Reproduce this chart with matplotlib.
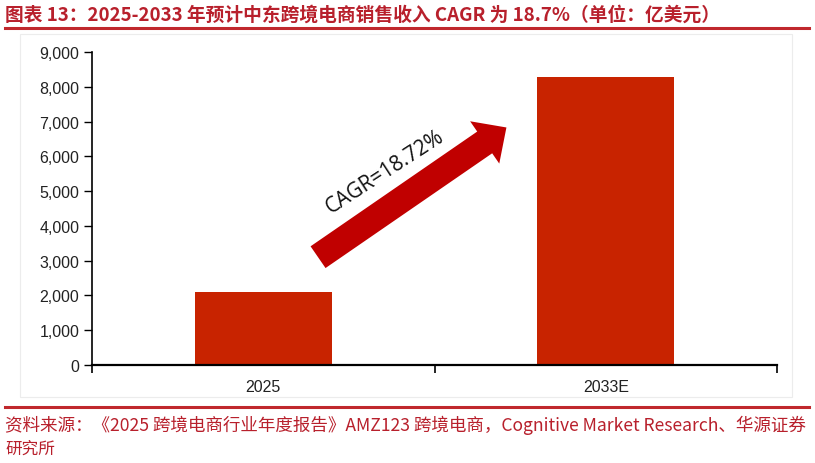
import matplotlib
matplotlib.use("Agg")
import matplotlib.pyplot as plt
import matplotlib.patches as mpatches
from matplotlib.ticker import FuncFormatter, FixedLocator

categories = ["2025", "2033E"]
values = [2100, 8280]
cagr_label = "CAGR=18.72%"
title = "图表 13：2025-2033 年预计中东跨境电商销售收入 CAGR 为 18.7%（单位：亿美元）"
source_1 = "资料来源：《2025 跨境电商行业年度报告》AMZ123 跨境电商，Cognitive Market Research、华源证券"
source_2 = "研究所"

W, H = 815, 464
DPI = 100
fig = plt.figure(figsize=(W / DPI, H / DPI), dpi=DPI)
fig.patch.set_facecolor("white")

def fx(px):
    return px / W

def fy(py):
    return 1 - py / H

RED_TXT = "#b8202c"
BAR = "#c82300"
ARROW = "#c00000"
cjk = ["Noto Sans CJK SC", "DejaVu Sans"]

# faint frame of the embedded chart image
fig.add_artist(mpatches.Rectangle((fx(20), fy(398)), fx(792) - fx(20), fy(35) - fy(398),
                                  transform=fig.transFigure, fill=False,
                                  edgecolor="#ececec", linewidth=0.8))

# header / footer rules
fig.add_artist(plt.Line2D([fx(5), fx(809)], [fy(28.5), fy(28.5)], transform=fig.transFigure,
                          color="#c0282d", linewidth=2.2))
fig.add_artist(plt.Line2D([fx(5), fx(809)], [fy(408), fy(408)], transform=fig.transFigure,
                          color="#c0282d", linewidth=2.2))

renderer = fig.canvas.get_renderer()

def fit_text(x, y, s, target_w, size, **kw):
    t = fig.text(x, y, s, fontsize=size, family=cjk, **kw)
    w = t.get_window_extent(renderer).width
    t.set_fontsize(size * target_w / w)
    return t

fit_text(fx(5), fy(15), title, 717, 14, color=RED_TXT, fontweight="bold", va="center", ha="left")
fit_text(fx(5), fy(425), source_1, 803, 12, color=RED_TXT, va="center", ha="left")
t2 = fig.text(fx(5), fy(449), source_2, fontsize=12, family=cjk, color=RED_TXT, va="center", ha="left")

# main axes
ax = fig.add_axes([fx(92), fy(366), fx(777) - fx(92), fy(53) - fy(366)])
x = list(range(len(categories)))
ax.bar(x, values, width=0.40, color=BAR, edgecolor="none", zorder=2)
ax.set_xlim(-0.5, len(categories) - 0.5)
ax.set_ylim(0, 9000)
ax.set_yticks(range(0, 9001, 1000))
ax.yaxis.set_major_formatter(FuncFormatter(lambda v, p: f"{int(v):,}"))
ax.set_xticks(x)
ax.set_xticklabels(categories)
ax.xaxis.set_minor_locator(FixedLocator([i + 0.5 for i in range(-1, len(categories))]))
ax.tick_params(axis="x", which="major", length=0, pad=10)
ax.tick_params(axis="x", which="minor", length=6, width=1.2, direction="out")
ax.tick_params(axis="y", length=6, width=1.0, direction="out", pad=3)
for lab in ax.get_xticklabels() + ax.get_yticklabels():
    lab.set_fontfamily("Liberation Sans")
    lab.set_fontsize(11.5)
    lab.set_color("#222222")
for s in ["top", "right"]:
    ax.spines[s].set_visible(False)
ax.spines["left"].set_linewidth(1.2)
ax.spines["bottom"].set_linewidth(1.6)

# CAGR arrow (data coordinates)
arrow = mpatches.FancyArrowPatch(posA=(0.16, 3100), posB=(0.71, 6830),
                                 arrowstyle=mpatches.ArrowStyle.Simple(head_length=1.9, head_width=3.7, tail_width=1.9),
                                 mutation_scale=10, color=ARROW, linewidth=0, zorder=3,
                                 shrinkA=0, shrinkB=0)
ax.add_patch(arrow)
ax.text(0.355, 5560, cagr_label, fontsize=15, family="Open Sans", rotation=33,
        rotation_mode="anchor", ha="center", va="center", color="#111111", zorder=4)

fig.savefig("out.png", dpi=DPI, facecolor="white")
